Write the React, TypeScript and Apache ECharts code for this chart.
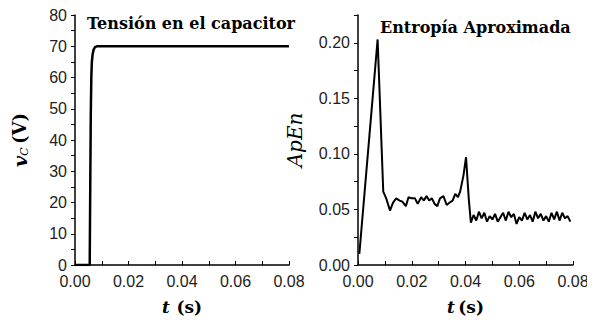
import React, { useEffect, useRef } from "react";
import * as echarts from "echarts";

// Left panel: capacitor voltage (t in s, v in V)
const voltageT = [0, 0.0055, 0.0057, 0.0059, 0.0061, 0.0063, 0.0066, 0.007, 0.0075, 0.0082, 0.01, 0.03, 0.05, 0.08];
const voltageV = [0, 0, 25, 48, 60, 65, 67.5, 69, 69.7, 70, 70, 70, 70, 70];

// Right panel: approximate entropy
const apenT = [
  0.0005, 0.0073, 0.0094, 0.0105, 0.0119, 0.013, 0.0142, 0.0155, 0.0165, 0.0178,
  0.0188, 0.02, 0.0212, 0.0222, 0.0235, 0.0245, 0.0255, 0.0265, 0.0275, 0.0285,
  0.0295, 0.0305, 0.0318, 0.033, 0.034, 0.0352, 0.0362, 0.0372, 0.038, 0.0392,
  0.0402, 0.0412, 0.042, 0.043, 0.044, 0.045, 0.046, 0.047, 0.048, 0.049,
  0.05, 0.051, 0.052, 0.053, 0.054, 0.055, 0.056, 0.057, 0.058, 0.059,
  0.06, 0.061, 0.062, 0.063, 0.064, 0.065, 0.066, 0.067, 0.068, 0.069,
  0.07, 0.071, 0.072, 0.073, 0.074, 0.075, 0.076, 0.077, 0.078, 0.079,
];
const apenV = [
  0.010, 0.203, 0.066, 0.060, 0.049, 0.056, 0.060, 0.058, 0.057, 0.053,
  0.061, 0.060, 0.060, 0.055, 0.061, 0.058, 0.062, 0.058, 0.060, 0.055,
  0.053, 0.060, 0.062, 0.054, 0.056, 0.058, 0.064, 0.061, 0.066, 0.080,
  0.097, 0.060, 0.038, 0.045, 0.040, 0.048, 0.042, 0.047, 0.039, 0.044,
  0.041, 0.046, 0.039, 0.043, 0.047, 0.040, 0.048, 0.043, 0.046, 0.037,
  0.043, 0.040, 0.047, 0.041, 0.045, 0.039, 0.048, 0.042, 0.046, 0.040,
  0.044, 0.039, 0.047, 0.041, 0.048, 0.040, 0.047, 0.042, 0.044, 0.039,
];

const titleLeft = "Tensión en el capacitor";
const titleRight = "Entropía Aproximada";

const SERIF = "DejaVu Serif";

export default function App() {
  const ref = useRef<HTMLDivElement>(null);
  useEffect(() => {
    if (!ref.current) return;
    const chart = echarts.init(ref.current, undefined, { renderer: "svg" });

    const labelStyle = { color: "#222", fontSize: 16, margin: 8 };
    const lineStyleAxis = { show: true, onZero: false, lineStyle: { color: "#000", width: 1.5 } };
    const tickIn = { inside: true, length: 4, lineStyle: { color: "#000", width: 1 } };
    const tickOut = { inside: false, length: 4, lineStyle: { color: "#000", width: 1 } };

    const xFmt = (v: number) => (Math.round(v * 100) % 2 === 0 ? v.toFixed(2) : "");
    const xRich = {
      i: { fontFamily: SERIF, fontStyle: "italic", fontWeight: "bold", fontSize: 17, color: "#000" },
      b: { fontFamily: SERIF, fontWeight: "bold", fontSize: 17, color: "#000" },
    };

    const option = {
      animation: false,
      title: [
        {
          text: titleLeft,
          left: 87,
          top: 15,
          padding: 0,
          textStyle: { fontFamily: SERIF, fontWeight: "bold", fontSize: 16, color: "#000" },
        },
        {
          text: titleRight,
          left: 380,
          top: 19,
          padding: 0,
          textStyle: { fontFamily: SERIF, fontWeight: "bold", fontSize: 16, color: "#000" },
        },
      ],
      grid: [
        { left: 75, right: 306, top: 15, bottom: 48 },
        { left: 358, right: 22, top: 15, bottom: 48 },
      ],
      xAxis: [
        {
          gridIndex: 0,
          type: "value",
          min: 0,
          max: 0.08,
          interval: 0.01,
          axisLine: lineStyleAxis,
          splitLine: { show: false },
          axisTick: tickIn,
          axisLabel: { ...labelStyle, formatter: xFmt },
          name: "{i|t}  {b|(s)}",
          nameLocation: "middle",
          nameGap: 33,
          nameTextStyle: { rich: xRich },
        },
        {
          gridIndex: 1,
          type: "value",
          min: 0,
          max: 0.08,
          interval: 0.01,
          axisLine: lineStyleAxis,
          splitLine: { show: false },
          axisTick: tickIn,
          axisLabel: { ...labelStyle, formatter: xFmt },
          name: "{i|t} {b|(s)}",
          nameLocation: "middle",
          nameGap: 33,
          nameTextStyle: { rich: xRich },
        },
      ],
      yAxis: [
        {
          gridIndex: 0,
          type: "value",
          min: 0,
          max: 80,
          interval: 5,
          axisLine: lineStyleAxis,
          splitLine: { show: false },
          axisTick: tickOut,
          axisLabel: {
            ...labelStyle,
            formatter: (v: number) => (Math.round(v) % 10 === 0 ? String(v) : ""),
          },
          name: "{i|v}{s|C} {b|(V)}",
          nameLocation: "middle",
          nameRotate: 90,
          nameGap: 45,
          nameTextStyle: {
            rich: {
              i: { fontFamily: SERIF, fontStyle: "italic", fontWeight: "bold", fontSize: 19, color: "#000" },
              s: { fontFamily: SERIF, fontStyle: "italic", fontSize: 11, color: "#000", padding: [10, 0, 0, 0] },
              b: { fontFamily: SERIF, fontWeight: "bold", fontSize: 18, color: "#000" },
            },
          },
        },
        {
          gridIndex: 1,
          type: "value",
          min: 0,
          max: 0.225,
          interval: 0.025,
          axisLine: lineStyleAxis,
          splitLine: { show: false },
          axisTick: tickOut,
          axisLabel: {
            ...labelStyle,
            formatter: (v: number) => {
              const k = Math.round(v * 1000);
              return k % 50 === 0 && k <= 200 ? v.toFixed(2) : "";
            },
          },
          name: "ApEn",
          nameLocation: "middle",
          nameRotate: 90,
          nameGap: 53,
          nameTextStyle: { fontFamily: SERIF, fontStyle: "italic", fontSize: 20, color: "#000" },
        },
      ],
      series: [
        {
          type: "line",
          xAxisIndex: 0,
          yAxisIndex: 0,
          data: voltageT.map((t, i) => [t, voltageV[i]]),
          showSymbol: false,
          lineStyle: { color: "#000", width: 2.5 },
        },
        {
          type: "line",
          xAxisIndex: 1,
          yAxisIndex: 1,
          data: apenT.map((t, i) => [t, apenV[i]]),
          showSymbol: false,
          lineStyle: { color: "#000", width: 2 },
        },
      ],
    };
    chart.setOption(option as any);
    return () => chart.dispose();
  }, []);
  return <div ref={ref} style={{ width: 595, height: 320, marginLeft: -8, marginTop: -8 }} />;
}
